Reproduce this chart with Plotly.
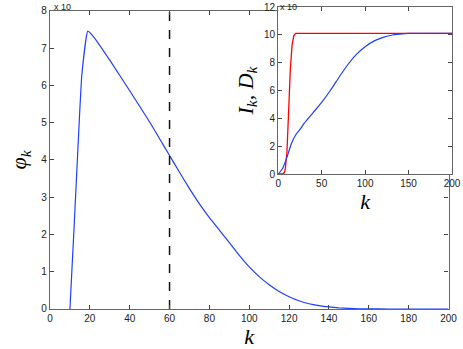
import plotly.graph_objects as go

# main curve: phi_k (scaled, x 10^?)
k_main = [10, 12, 14, 16, 19, 22, 30, 40, 50, 55, 60, 65, 70, 75, 80, 85, 90, 95, 100, 105, 110, 115, 120,
          125, 130, 135, 140, 145, 150, 155, 160, 170, 180, 190, 200]
phi = [0, 2.1, 4.3, 6.3, 7.46, 7.3, 6.68, 5.86, 5.02, 4.57, 4.12, 3.67, 3.23, 2.82, 2.45, 2.12, 1.78, 1.44, 1.13,
       0.87, 0.65, 0.47, 0.33, 0.22, 0.14, 0.09, 0.055, 0.03, 0.015, 0.007, 0.003, 0, 0, 0, 0]
k_cut = [60, 60]
cut_y = [0, 8]

# inset curves
k_red = [0, 5, 7, 8, 10, 12, 14, 16, 18, 20, 25, 50, 100, 150, 200]
red = [0, 0, 0.1, 0.3, 1.5, 4.5, 7.6, 9.3, 9.95, 10.1, 10.1, 10.1, 10.1, 10.1, 10.1]
k_blue = [0, 5, 10, 15, 20, 25, 30, 40, 50, 60, 70, 80, 90, 100, 110, 120, 130, 140, 150, 160, 200]
blue = [0, 0.4, 1.2, 2.15, 2.8, 3.2, 3.65, 4.4, 5.15, 6.0, 6.95, 7.85, 8.6, 9.15, 9.55, 9.8, 9.97, 10.05, 10.1, 10.1, 10.1]

main_xticks = list(range(0, 201, 20))
main_yticks = list(range(0, 9))
ins_xticks = [0, 50, 100, 150, 200]
ins_yticks = [0, 2, 4, 6, 8, 10, 12]

BLUE = "#1f3fff"
tickfont = dict(family="Liberation Sans, Arial", size=10, color="#222")
labfont = dict(family="Liberation Serif, DejaVu Serif", size=22, color="#000")

fig = go.Figure()
fig.add_trace(go.Scatter(x=k_main, y=phi, mode="lines", line=dict(color=BLUE, width=1.2, shape="spline", smoothing=0.4),
                         xaxis="x", yaxis="y", showlegend=False))
fig.add_trace(go.Scatter(x=k_cut, y=cut_y, mode="lines", line=dict(color="#111", width=1.5, dash="dash"),
                         xaxis="x", yaxis="y", showlegend=False))
fig.add_trace(go.Scatter(x=k_red, y=red, mode="lines", line=dict(color="red", width=1.3),
                         xaxis="x2", yaxis="y2", showlegend=False))
fig.add_trace(go.Scatter(x=k_blue, y=blue, mode="lines", line=dict(color=BLUE, width=1.2, shape="spline", smoothing=0.6),
                         xaxis="x2", yaxis="y2", showlegend=False))

axcommon = dict(showgrid=False, zeroline=False, showline=True, linecolor="#666", linewidth=1.2,
                mirror="ticks", ticks="inside", ticklen=4, tickcolor="#444", tickfont=tickfont,
                automargin=False)

fig.update_layout(
    width=463, height=349,
    margin=dict(l=50, r=10.5, t=7, b=40),
    paper_bgcolor="white", plot_bgcolor="white",
    xaxis=dict(domain=[0, 0.9913], range=[0, 200], tickvals=main_xticks,
               title=dict(text="<i>k</i>", font=labfont, standoff=4), **axcommon),
    yaxis=dict(domain=[0, 0.9868], range=[0, 8], tickvals=main_yticks,
               title=dict(text="<i>φ</i><sub><i>k</i></sub>", font=labfont, standoff=8), **axcommon),
    xaxis2=dict(domain=[0.5677, 1.0], range=[0, 200], tickvals=ins_xticks, anchor="y2",
                title=dict(text="<i>k</i>", font=labfont, standoff=0), **axcommon),
    yaxis2=dict(domain=[0.447, 1.0], range=[0, 12], tickvals=ins_yticks, anchor="x2",
                title=dict(text="<i>I</i><sub><i>k</i></sub><i>, D</i><sub><i>k</i></sub>", font=labfont, standoff=4),
                **axcommon),
)
fig.add_annotation(text="x 10", xref="paper", yref="paper", x=0.004, y=1.0 + 7 / 302, showarrow=False,
                   xanchor="left", yanchor="top", font=dict(family="Liberation Sans, Arial", size=9, color="#222"))
fig.add_annotation(text="x 10", xref="paper", yref="paper", x=0.566, y=1.0 + 7 / 302, showarrow=False,
                   xanchor="left", yanchor="top", font=dict(family="Liberation Sans, Arial", size=9, color="#222"))
fig.write_html("out.html", config={"displayModeBar": False},
               post_script="document.body.style.margin='0';document.body.style.overflow='hidden';")
